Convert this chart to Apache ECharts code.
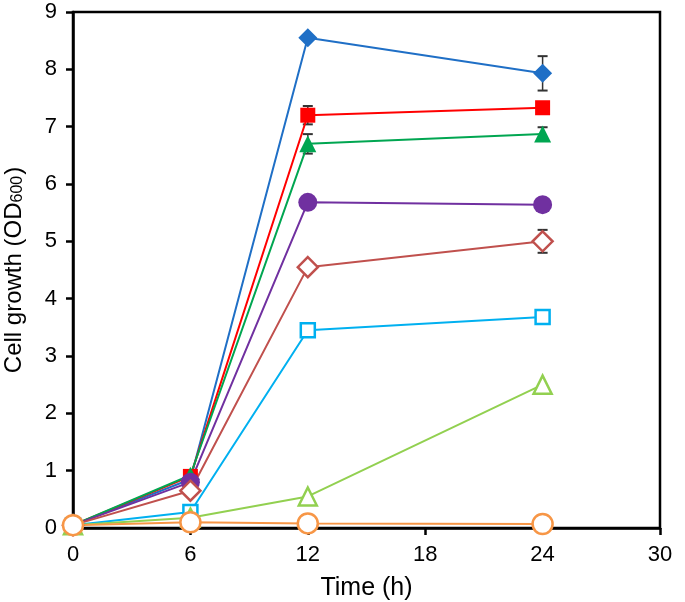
<!DOCTYPE html>
<html><head><meta charset="utf-8">
<script src="https://cdn.jsdelivr.net/npm/echarts@6/dist/echarts.min.js"></script>
<style>html,body{margin:0;padding:0;background:#fff}#c{width:685px;height:602px}</style>
</head><body><div id="c"></div>
<script>
const times = [0, 6, 12, 24];
const blueDiamond = [0.05, 0.85, 8.55, 7.93];
const redSquare = [0.05, 0.9, 7.2, 7.33];
const greenTriangle = [0.05, 0.92, 6.7, 6.87];
const purpleCircle = [0.05, 0.8, 5.68, 5.64];
const brownDiamond = [0.05, 0.65, 4.55, 5.0];
const cyanSquare = [0.05, 0.28, 3.45, 3.68];
const limeTriangle = [0.05, 0.18, 0.55, 2.5];
const orangeCircle = [0.05, 0.1, 0.08, 0.07];
// error bars: [time, value, error]
const errBlue = [[24, 7.93, 0.3]];
const errRed = [[12, 7.2, 0.16]];
const errGreen = [[12, 6.7, 0.17], [24, 6.87, 0.12]];
const errBrown = [[24, 5.0, 0.2]];
const xTicks = [0, 6, 12, 18, 24, 30];

const font = 'Liberation Sans, Arial, Helvetica, sans-serif';
function pairs(v){ return times.map((t,i)=>[t, v[i]]); }
function lineSeries(name, vals, color, symbol, size, hollow){
  return {
    name, type:'line', data: pairs(vals), symbol, symbolSize: size,
    lineStyle:{color, width:2},
    itemStyle: hollow ? {color:'#fff', borderColor:color, borderWidth:2.5} : {color, borderColor:color, borderWidth:0},
    emphasis:{disabled:true}, z: 3
  };
}
const allErr = [].concat(errBlue, errRed, errGreen, errBrown);
const errSeries = {
  type:'custom', data: allErr, z: 2,
  renderItem: function(params, api){
    const x = api.value(0), y = api.value(1), e = api.value(2);
    const hi = api.coord([x, y+e]), lo = api.coord([x, y-e]);
    const w = 5;
    return {type:'group', children:[
      {type:'line', shape:{x1:hi[0], y1:hi[1], x2:lo[0], y2:lo[1]}, style:{stroke:'#333', lineWidth:1.5}},
      {type:'line', shape:{x1:hi[0]-w, y1:hi[1], x2:hi[0]+w, y2:hi[1]}, style:{stroke:'#333', lineWidth:2}},
      {type:'line', shape:{x1:lo[0]-w, y1:lo[1], x2:lo[0]+w, y2:lo[1]}, style:{stroke:'#333', lineWidth:2}}
    ]};
  }
};
const chart = echarts.init(document.getElementById('c'));
chart.setOption({
  animation:false,
  grid:{left:73, right:25, top:12, bottom:74, outerBoundsMode:'none', containLabel:false,
    show:true, borderColor:'#000', borderWidth:2.5, backgroundColor:'transparent'},
  xAxis:{type:'value', min:0, max:30, interval:6,
    name:'Time (h)', nameLocation:'middle', nameGap:48,
    nameTextStyle:{fontFamily:font, fontSize:25, color:'#000'},
    axisLine:{show:true, lineStyle:{color:'#000', width:2.5}},
    axisTick:{show:true, length:7, lineStyle:{color:'#000', width:2.5}},
    axisLabel:{fontFamily:font, fontSize:22, color:'#000', margin:16,
      formatter: v => xTicks.includes(v) ? String(v) : ''},
    splitLine:{show:false}},
  yAxis:{type:'value', min:0, max:9, interval:1,
    name:'{n|Cell growth (OD}{s|600}{n|)}', nameLocation:'middle', nameGap:47,
    nameTextStyle:{rich:{n:{fontFamily:font, fontSize:24, color:'#000', lineHeight:28, verticalAlign:'bottom'},
      s:{fontFamily:font, fontSize:16, color:'#000', lineHeight:16, verticalAlign:'bottom', padding:[0,1,0,0]}}},
    axisLine:{show:true, lineStyle:{color:'#000', width:2.5}},
    axisTick:{show:true, length:7, lineStyle:{color:'#000', width:2.5}},
    axisLabel:{fontFamily:font, fontSize:22, color:'#000', margin:16},
    splitLine:{show:false}},
  series:[
    errSeries,
    lineSeries('blue', blueDiamond, '#1f6fc6', 'diamond', 19, false),
    lineSeries('red', redSquare, '#ff0000', 'rect', 15, false),
    lineSeries('green', greenTriangle, '#00a651', 'triangle', 17, false),
    lineSeries('purple', purpleCircle, '#7030a0', 'circle', 19, false),
    lineSeries('brown', brownDiamond, '#c0504d', 'diamond', 20, true),
    lineSeries('cyan', cyanSquare, '#00b0f0', 'rect', 14, true),
    lineSeries('lime', limeTriangle, '#92d050', 'triangle', 18, true),
    lineSeries('orange', orangeCircle, '#f79646', 'circle', 20, true)
  ]
});
</script></body></html>
